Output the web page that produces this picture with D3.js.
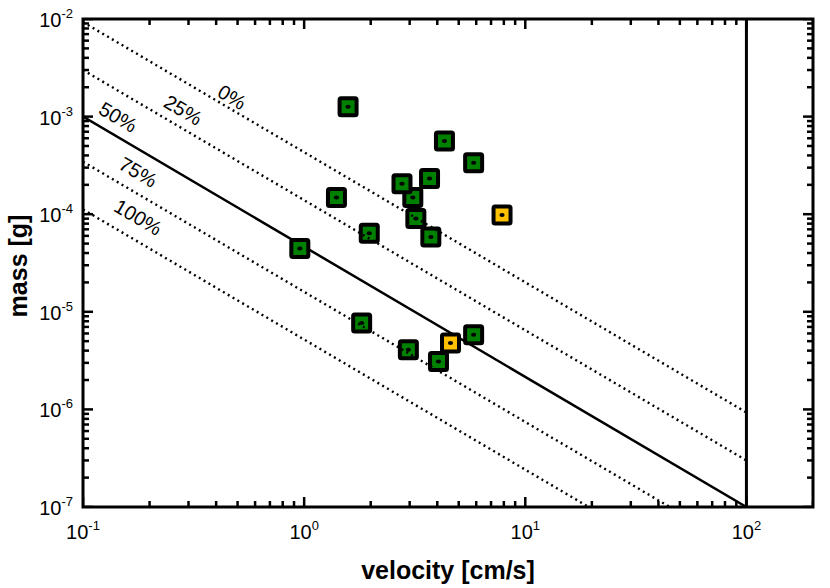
<!DOCTYPE html>
<html lang="en">
<head>
<meta charset="UTF-8">
<title>mass vs velocity</title>
<style>
    body { margin: 0; background: #fff; }
    svg { display: block; }
    .tick-label { font-family: "Liberation Sans Narrow", "Liberation Sans", Arial, sans-serif; font-size: 20px; }
    .title { font-family: "Liberation Sans", Arial, sans-serif; font-size: 25px; font-weight: bold; }
    .pct { font-family: "Liberation Sans", Arial, sans-serif; font-size: 20px; }
</style>
<script src="https://d3js.org/d3.v7.min.js"></script>
</head>
<body>
<svg width="830" height="588"></svg>
<script>
    // measured points (velocity in cm/s, mass in g); 'b' = yellow markers
    const velocity = [1.58, 4.31, 5.84, 1.40, 3.10, 2.77, 3.69, 3.20, 7.85, 3.74, 1.97, 0.956, 1.82, 5.84, 4.59, 2.96, 4.05];
    const mass     = [1.26e-3, 5.61e-4, 3.36e-4, 1.48e-4, 1.48e-4, 2.05e-4, 2.32e-4, 9.03e-5, 9.84e-5, 5.85e-5, 6.38e-5, 4.45e-5, 7.67e-6, 5.83e-6, 4.79e-6, 4.09e-6, 3.10e-6];
    const kind     = ['a', 'a', 'a', 'a', 'a', 'a', 'a', 'a', 'b', 'a', 'a', 'a', 'a', 'a', 'b', 'a', 'a'];

    // reference lines: mass at v = 0.1 cm/s, all with slope -4/3
    const lineNames      = ['0%', '25%', '50%', '75%', '100%'];
    const lineIntercepts = [9.3e-3, 3.0e-3, 1.0e-3, 3.45e-4, 1.12e-4];
    const lineSolid      = [false, false, true, false, false];
    // where each label sits, in data units
    const labelVelocity  = [0.472, 0.2835, 0.144, 0.1774, 0.1774];
    const labelMass      = [1.585e-3, 1.166e-3, 9.88e-4, 2.70e-4, 9.31e-5];
    const lineSlope = -4 / 3;
    const lineRange = [0.1, 100];
    const vLimit = 100;

    // axis decades, minor multiples and exponent labels
    const xDecades = [0.1, 1, 10, 100];
    const xExp = ['-1', '0', '1', '2'];
    const yDecades = [1e-7, 1e-6, 1e-5, 1e-4, 1e-3, 1e-2];
    const yExp = ['-7', '-6', '-5', '-4', '-3', '-2'];
    const minorMult = [2, 3, 4, 5, 6, 7, 8, 9];

    const svg = d3.select("svg");
    const pLeft = 83, pRight = 813, pTop = 19, pBottom = 507;

    const x = d3.scaleLog().domain([0.1, 200]).range([pLeft, pRight]);
    const y = d3.scaleLog().domain([1e-7, 1e-2]).range([pBottom, pTop]);

    const lineMass = (c, v) => c * Math.pow(v / lineRange[0], lineSlope);
    const color = k => k === 'b' ? '#ffc000' : '#008000';

    const defs = svg.append("defs");
    defs.append("clipPath").attr("id", "plot")
        .append("rect").attr("x", pLeft).attr("y", pTop)
        .attr("width", pRight - pLeft).attr("height", pBottom - pTop);

    // tick values: decades plus 2..9 multiples inside the domain
    const inX = v => v >= 0.1 && v <= 200;
    const inY = v => v >= 1e-7 && v <= 1e-2;
    const xTickVals = xDecades.map(v => ({ v: v, len: 10 }))
        .concat(xDecades.flatMap(d => minorMult.map(m => d * m)).filter(inX).map(v => ({ v: v, len: 6 })));
    const yTickVals = yDecades.map(v => ({ v: v, len: 10 }))
        .concat(yDecades.flatMap(d => minorMult.map(m => d * m)).filter(inY).map(v => ({ v: v, len: 6 })));

    // tick labels 10^n
    const xl = svg.append("g").selectAll("text").data(xDecades).enter().append("text")
        .attr("class", "tick-label")
        .attr("x", d => x(d))
        .attr("y", pBottom + 32)
        .attr("text-anchor", "middle");
    xl.append("tspan").text("10");
    xl.append("tspan").attr("font-size", "13px").attr("dy", -9).text((d, i) => xExp[i]);

    const yl = svg.append("g").selectAll("text").data(yDecades).enter().append("text")
        .attr("class", "tick-label")
        .attr("x", pLeft - 10)
        .attr("y", d => y(d) + 8)
        .attr("text-anchor", "end");
    yl.append("tspan").text("10");
    yl.append("tspan").attr("font-size", "13px").attr("dy", -9).text((d, i) => yExp[i]);

    // reference lines
    const lines = lineIntercepts.map((c, i) => ({
        name: lineNames[i], c: c, solid: lineSolid[i], lv: labelVelocity[i], lm: labelMass[i],
        pts: lineRange.map(v => [v, lineMass(c, v)])
    }));
    const path = d3.line().x(d => x(d[0])).y(d => y(d[1]));

    const plot = svg.append("g").attr("clip-path", "url(#plot)");

    // inward ticks on all four sides
    const tk = plot.append("g").attr("class", "ticks");
    tk.selectAll("line.xb").data(xTickVals).enter().append("line")
        .attr("x1", d => x(d.v)).attr("x2", d => x(d.v))
        .attr("y1", pBottom).attr("y2", d => pBottom - d.len)
        .attr("stroke", "#000").attr("stroke-width", 2.5);
    tk.selectAll("line.xt").data(xTickVals).enter().append("line")
        .attr("x1", d => x(d.v)).attr("x2", d => x(d.v))
        .attr("y1", pTop).attr("y2", d => pTop + d.len)
        .attr("stroke", "#000").attr("stroke-width", 2.5);
    tk.selectAll("line.yl").data(yTickVals).enter().append("line")
        .attr("y1", d => y(d.v)).attr("y2", d => y(d.v))
        .attr("x1", pLeft).attr("x2", d => pLeft + d.len)
        .attr("stroke", "#000").attr("stroke-width", 2.5);
    tk.selectAll("line.yr").data(yTickVals).enter().append("line")
        .attr("y1", d => y(d.v)).attr("y2", d => y(d.v))
        .attr("x1", pRight).attr("x2", d => pRight - d.len)
        .attr("stroke", "#000").attr("stroke-width", 2.5);

    plot.selectAll("path.solid").data(lines.filter(d => d.solid)).enter().append("path")
        .attr("class", "solid")
        .attr("d", d => path(d.pts))
        .attr("fill", "none").attr("stroke", "#000").attr("stroke-width", 2.5);

    // markers
    const marker = plot.selectAll("g.pt").data(velocity.map((v, i) => ({ v: v, m: mass[i], k: kind[i] })))
        .enter().append("g")
        .attr("class", "pt")
        .attr("transform", d => `translate(${x(d.v)},${y(d.m)})`);
    marker.append("rect")
        .attr("x", -8.5).attr("y", -8.5).attr("width", 17).attr("height", 17).attr("rx", 1.5)
        .attr("fill", d => color(d.k)).attr("stroke", "#000").attr("stroke-width", 4);
    marker.append("ellipse").attr("rx", 2.6).attr("ry", 2).attr("fill", "#000");

    plot.selectAll("path.dot").data(lines.filter(d => !d.solid)).enter().append("path")
        .attr("class", "dot")
        .attr("d", d => path(d.pts))
        .attr("fill", "none").attr("stroke", "#000").attr("stroke-width", 2.4)
        .attr("stroke-dasharray", "2 3.6");

    // vertical limit line
    svg.append("line")
        .attr("x1", x(vLimit)).attr("x2", x(vLimit))
        .attr("y1", pTop).attr("y2", pBottom)
        .attr("stroke", "#000").attr("stroke-width", 3);

    // line labels, rotated along the lines
    const angle = Math.atan2(y(lineMass(1, 1)) - y(lineMass(1, 0.1)), x(1) - x(0.1)) * 180 / Math.PI;
    svg.append("g").selectAll("text").data(lines).enter().append("text")
        .attr("class", "pct")
        .attr("transform", d => `translate(${x(d.lv)},${y(d.lm)}) rotate(${angle})`)
        .attr("dy", "0.35em")
        .attr("text-anchor", "middle")
        .text(d => d.name);

    // frame
    svg.append("rect")
        .attr("x", pLeft).attr("y", pTop).attr("width", pRight - pLeft).attr("height", pBottom - pTop)
        .attr("fill", "none").attr("stroke", "#000").attr("stroke-width", 3);

    // axis titles
    svg.append("text").attr("class", "title")
        .attr("x", (pLeft + pRight) / 2).attr("y", 579)
        .attr("text-anchor", "middle")
        .text("velocity [cm/s]");
    svg.append("text").attr("class", "title")
        .attr("transform", `translate(27,${(pTop + pBottom) / 2 + 3}) rotate(-90)`)
        .attr("text-anchor", "middle")
        .text("mass [g]");
</script>
</body>
</html>
